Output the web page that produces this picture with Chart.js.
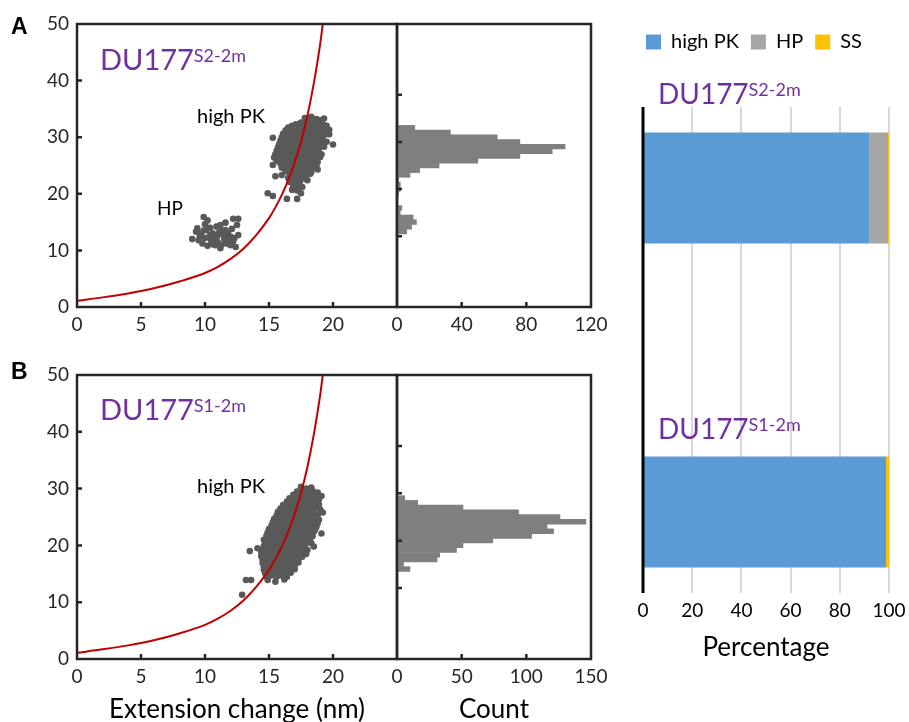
<!DOCTYPE html>
<html><head><meta charset="utf-8">
<script src="https://cdn.jsdelivr.net/npm/chart.js@4"></script>
<style>
body{margin:0;background:#fff;width:909px;height:722px;position:relative;overflow:hidden;font-family:Lato,sans-serif}
canvas{position:absolute}
.t{position:absolute;white-space:nowrap;line-height:1;color:#000}
.du{position:absolute;white-space:nowrap;line-height:1;color:#7030A0;font-size:29px}
.du span{font-size:18px;position:relative;top:-8px}
.pn{position:absolute;line-height:1;font:bold 23px "Liberation Sans",Arial,sans-serif}
</style></head><body>
<canvas id="sa" width="400" height="345" style="left:0;top:0"></canvas>
<canvas id="ha" width="229" height="345" style="left:380px;top:0"></canvas>
<canvas id="sb" width="400" height="372" style="left:0;top:350px"></canvas>
<canvas id="hb" width="229" height="372" style="left:380px;top:350px"></canvas>
<canvas id="pc" width="309" height="722" style="left:600px;top:0"></canvas>

<div class="pn" style="left:11px;top:13px">A</div>
<div class="pn" style="left:11px;top:358px">B</div>
<div class="du" style="left:100px;top:44px">DU177<span>S2-2m</span></div>
<div class="du" style="left:100px;top:394px">DU177<span>S1-2m</span></div>
<div class="t" style="left:197px;top:105px;font-size:20px">high PK</div>
<div class="t" style="left:157px;top:198px;font-size:19px">HP</div>
<div class="t" style="left:197px;top:475px;font-size:20px">high PK</div>
<div class="du" style="left:658px;top:79px;font-size:28px">DU177<span>S2-2m</span></div>
<div class="du" style="left:658px;top:414px;font-size:28px">DU177<span>S1-2m</span></div>

<script>
const AX='#262626', DOT='#595959', RED='#C00000', BAR='#7F7F7F';
const TF={family:'Lato',size:19};

// fitted curve (x in nm, y in pN)
const curveX=[0,2,4,6,8,10,11,12,13,14,15,15.5,16,16.5,17,17.5,18,18.5,19,19.2];
const curveY=[1.1,1.7,2.4,3.3,4.5,6.0,7.1,8.5,10.3,12.7,15.7,17.6,19.8,22.4,25.5,29.2,33.8,39.5,46.5,50];

// panel A scatter: HP cluster
const hpA=[[9.9,15.9],[10.2,15.3],[10.0,14.6],[9.4,13.9],[9.3,13.3],[9.0,12.0],[9.6,12.5],[9.8,11.2],[10.2,10.8],[10.5,11.5],
[10.3,12.3],[10.6,13.0],[10.9,14.2],[10.7,12.2],[11.0,11.4],[11.2,10.4],[11.0,12.7],[11.3,13.5],[11.6,14.9],[11.5,12.0],
[11.7,11.2],[11.8,13.0],[12.0,12.4],[12.2,11.6],[12.1,13.8],[12.2,15.6],[12.6,15.6],[12.5,14.5],[12.6,12.7],[12.4,10.6],
[12.0,10.9],[10.4,14.0],[9.7,13.0],[10.1,13.6],[10.8,10.9],[11.4,12.8],[11.9,11.9],[10.5,12.0],[9.5,11.8],[11.2,14.5],
[10.4,12.7],[10.9,11.9],[11.3,11.0],[11.6,13.6],[10.0,12.2],[11.1,13.1],[12.3,12.2],[9.9,13.5],[10.6,11.1],[11.8,12.5]];

// panel A scatter: high PK cluster
const pkA=[[17.8,33.4],[18.3,33.6],[18.7,33.2],[19.0,33.0],[18.1,33.0],[19.3,33.3],
[17.5,32.6],[17.9,32.4],[18.4,32.7],[18.8,32.5],[19.2,32.3],[17.1,32.3],[19.5,32.0],
[16.8,32.0],[17.3,31.9],[17.7,32.0],[18.2,31.9],[18.6,32.0],[19.0,31.8],[19.4,31.6],[16.5,31.7],[19.7,31.3],
[16.3,31.2],[16.7,31.3],[17.1,31.1],[17.5,31.4],[17.9,31.2],[18.3,31.4],[18.7,31.2],[19.1,31.1],[19.5,31.0],
[16.1,30.6],[16.5,30.8],[16.9,30.5],[17.3,30.7],[17.7,30.6],[18.1,30.8],[18.5,30.5],[18.9,30.7],[19.3,30.4],[19.7,30.5],[15.3,29.9],
[16.0,30.0],[16.4,30.1],[16.8,29.9],[17.2,30.1],[17.6,29.9],[18.0,30.0],[18.4,30.1],[18.8,29.9],[19.2,30.0],
[15.9,29.4],[16.3,29.5],[16.7,29.3],[17.1,29.5],[17.5,29.4],[17.9,29.5],[18.3,29.3],[18.7,29.5],[19.1,29.3],[19.5,29.2],
[15.8,28.8],[16.2,28.9],[16.6,28.7],[17.0,28.9],[17.4,28.8],[17.8,28.9],[18.2,28.7],[18.6,28.9],[19.0,28.6],[20.0,28.7],
[15.7,28.2],[16.1,28.3],[16.5,28.1],[16.9,28.3],[17.3,28.2],[17.7,28.3],[18.1,28.1],[18.5,28.2],[18.9,28.0],[19.3,28.3],
[15.6,27.6],[16.0,27.7],[16.4,27.5],[16.8,27.7],[17.2,27.6],[17.6,27.7],[18.0,27.5],[18.4,27.7],[18.8,27.5],
[15.5,27.0],[15.9,27.1],[16.3,26.9],[16.7,27.1],[17.1,27.0],[17.5,27.1],[17.9,26.9],[18.3,27.1],[18.7,26.9],[19.1,27.0],
[15.4,26.4],[15.8,26.5],[16.2,26.3],[16.6,26.5],[17.0,26.4],[17.4,26.5],[17.8,26.3],[18.2,26.5],[18.6,26.3],[19.0,26.5],
[15.6,25.8],[16.0,25.9],[16.4,25.7],[16.8,25.9],[17.2,25.8],[17.6,25.9],[18.0,25.7],[18.4,25.9],[18.8,25.6],
[15.3,25.1],[15.9,25.3],[16.3,25.1],[16.7,25.3],[17.1,25.2],[17.5,25.3],[17.9,25.1],[18.3,25.3],[18.7,25.0],
[16.0,24.6],[16.4,24.7],[16.8,24.5],[17.2,24.7],[17.6,24.6],[18.0,24.7],[18.4,24.5],[18.8,24.3],
[16.3,24.0],[16.7,24.1],[17.1,23.9],[17.5,24.1],[17.9,24.0],[18.3,23.8],
[15.5,23.1],[16.0,23.3],[16.6,23.5],[17.0,23.3],[17.4,23.5],[17.8,23.3],[18.2,23.5],
[16.5,22.8],[16.9,22.7],[17.3,22.9],[17.7,22.7],[18.0,22.4],
[16.6,22.1],[17.0,22.2],[17.4,22.0],
[16.9,21.4],[17.3,21.5],[17.6,21.2],
[16.8,20.7],[17.5,20.1],[17.2,20.6],
[16.4,19.1],[17.2,19.1],[14.9,20.1],[15.3,19.6]];

// panel B scatter: high PK cluster
const pkB=[[17.5,30.3],[17.9,30.0],[18.3,30.2],
[17.2,29.5],[17.6,29.7],[18.0,29.5],[18.4,29.6],[18.8,29.3],
[16.9,28.9],[17.3,29.1],[17.7,28.9],[18.1,29.0],[18.5,28.9],[19.1,28.7],
[16.6,28.3],[17.0,28.5],[17.4,28.3],[17.8,28.5],[18.2,28.3],[18.6,28.4],[18.9,28.1],
[16.4,27.7],[16.8,27.9],[17.2,27.7],[17.6,27.9],[18.0,27.7],[18.4,27.9],[18.8,27.6],
[16.1,27.1],[16.5,27.3],[16.9,27.1],[17.3,27.3],[17.7,27.1],[18.1,27.3],[18.5,27.1],[18.9,27.2],
[15.9,26.5],[16.3,26.7],[16.7,26.5],[17.1,26.7],[17.5,26.5],[17.9,26.7],[18.3,26.5],[18.7,26.6],[19.0,26.3],
[15.7,25.9],[16.1,26.1],[16.5,25.9],[16.9,26.1],[17.3,25.9],[17.7,26.1],[18.1,25.9],[18.5,26.1],[19.2,25.8],
[15.6,25.3],[16.0,25.5],[16.4,25.3],[16.8,25.5],[17.2,25.3],[17.6,25.5],[18.0,25.3],[18.4,25.5],[18.8,25.3],
[15.4,24.7],[15.8,24.9],[16.2,24.7],[16.6,24.9],[17.0,24.7],[17.4,24.9],[17.8,24.7],[18.2,24.9],[18.6,24.7],[18.9,24.5],
[15.3,24.1],[15.7,24.3],[16.1,24.1],[16.5,24.3],[16.9,24.1],[17.3,24.3],[17.7,24.1],[18.1,24.3],[18.5,24.1],[18.8,23.9],
[15.2,23.5],[15.6,23.7],[16.0,23.5],[16.4,23.7],[16.8,23.5],[17.2,23.7],[17.6,23.5],[18.0,23.7],[18.4,23.5],[18.7,23.3],
[15.0,22.9],[15.4,23.1],[15.8,22.9],[16.2,23.1],[16.6,22.9],[17.0,23.1],[17.4,22.9],[17.8,23.1],[18.2,22.9],[18.6,22.8],
[14.9,22.3],[15.3,22.5],[15.7,22.3],[16.1,22.5],[16.5,22.3],[16.9,22.5],[17.3,22.3],[17.7,22.5],[18.1,22.3],[18.5,22.4],[19.1,22.1],
[14.8,21.7],[15.2,21.9],[15.6,21.7],[16.0,21.9],[16.4,21.7],[16.8,21.9],[17.2,21.7],[17.6,21.9],[18.0,21.7],[18.4,21.6],
[14.6,21.0],[15.0,21.3],[15.4,21.1],[15.8,21.3],[16.2,21.1],[16.6,21.3],[17.0,21.1],[17.4,21.3],[17.8,21.1],[18.2,21.2],
[14.7,20.5],[15.1,20.7],[15.5,20.5],[15.9,20.7],[16.3,20.5],[16.7,20.7],[17.1,20.5],[17.5,20.7],[17.9,20.5],[18.3,20.4],
[14.6,19.9],[15.0,20.1],[15.4,19.9],[15.8,20.1],[16.2,19.9],[16.6,20.1],[17.0,19.9],[17.4,20.1],[17.8,19.9],[18.5,19.8],
[14.1,19.5],[14.5,19.3],[14.9,19.5],[15.3,19.3],[15.7,19.5],[16.1,19.3],[16.5,19.5],[16.9,19.3],[17.3,19.5],[17.7,19.3],[18.0,19.2],[13.5,19.0],
[14.4,18.7],[14.8,18.9],[15.2,18.7],[15.6,18.9],[16.0,18.7],[16.4,18.9],[16.8,18.7],[17.2,18.9],[17.6,18.7],[17.9,18.5],
[14.4,18.1],[14.8,18.3],[15.2,18.1],[15.6,18.3],[16.0,18.1],[16.4,18.3],[16.8,18.1],[17.2,18.3],[17.6,18.0],
[14.5,17.5],[14.9,17.7],[15.3,17.5],[15.7,17.7],[16.1,17.5],[16.5,17.7],[16.9,17.5],[17.3,17.6],
[14.5,16.9],[14.9,17.1],[15.3,16.9],[15.7,17.1],[16.1,16.9],[16.5,17.1],[16.9,16.9],[17.3,17.0],
[14.6,16.3],[15.0,16.5],[15.4,16.3],[15.8,16.5],[16.2,16.3],[16.6,16.5],[17.0,16.3],
[14.6,15.7],[15.0,15.9],[15.4,15.7],[15.8,15.9],[16.2,15.7],[16.6,15.9],[17.0,15.8],
[14.7,15.1],[15.1,15.3],[15.5,15.1],[15.9,15.3],[16.3,15.1],[16.7,15.2],
[14.8,14.5],[15.2,14.7],[15.6,14.5],[16.0,14.7],[16.4,14.5],
[14.9,13.9],[15.5,13.6],[13.2,13.9],[13.6,13.9],[16.2,14.0],[12.9,11.3]];

// histograms (bin centre, count)
const binA=[11,12,13,14,15,16,17,18,19,20,21,22,23,24,25,26,27,28,29,30,31,32,33];
const cntA=[6,9,12,10,2,3,0,0,1,2,2,1,8,14,26,50,76,96,104,76,62,33,11];
const binB=[14,15,16,17,18,19,20,21,22,23,24,25,26,27,28,29];
const cntB=[10,5,31,33,46,51,74,104,121,116,146,126,94,51,16,6];

// percentage bars
const groups=['DU177 S2-2m','','DU177 S1-2m'];
const highPK=[92,null,98.8];
const hpPct=[7.6,null,0];
const ssPct=[0.4,null,1.2];

// box frame + inward tick marks
const frame={id:'frame',afterDraw(c){
  const {ctx,chartArea:a,scales:s}=c; ctx.save(); ctx.strokeStyle=AX; ctx.lineWidth=2.5;
  ctx.beginPath();
  s.x.ticks.slice(1,-1).forEach(t=>{const p=s.x.getPixelForValue(t.value); ctx.moveTo(p,a.bottom); ctx.lineTo(p,a.bottom-5);});
  s.y.ticks.slice(1,-1).forEach(t=>{const p=s.y.getPixelForValue(t.value); ctx.moveTo(a.left,p); ctx.lineTo(a.left+5,p);});
  ctx.stroke(); ctx.strokeRect(a.left,a.top,a.right-a.left,a.bottom-a.top); ctx.restore(); }};
// black category axis line of the percentage chart
const yLine={id:'yLine',afterDraw(c){
  const {ctx,chartArea:a}=c; ctx.save(); ctx.strokeStyle='#000'; ctx.lineWidth=3;
  ctx.beginPath(); ctx.moveTo(a.left,a.top); ctx.lineTo(a.left,a.bottom); ctx.stroke(); ctx.restore(); }};

// fixed axis box, no extra label overhang padding
function fixH(h){ return s=>{ s.height=h; s.paddingLeft=0; s.paddingRight=0; }; }
function fixW(w){ return s=>{ s.width=w; s.paddingTop=0; s.paddingBottom=0; }; }
function xTitle(t){ return t?{display:true,text:t,color:'#000',font:{family:'Lato',size:26},padding:{top:0,bottom:-3}}:{display:false}; }
function off(){ return {display:false,drawTicks:false}; }

function scatter(id, pts, top, h, title){
  new Chart(document.getElementById(id),{type:'scatter',data:{datasets:[
    {type:'line',data:curveX.map((x,i)=>({x,y:curveY[i]})),borderColor:RED,borderWidth:2,pointRadius:0,cubicInterpolationMode:'monotone',order:0},
    {data:pts.map(p=>({x:p[0],y:p[1]})),backgroundColor:DOT,borderWidth:0,pointRadius:3.3,order:1}]},
   options:{responsive:false,animation:false,events:[],layout:{autoPadding:false,padding:{top,right:3,left:0,bottom:0}},
    plugins:{legend:{display:false},tooltip:{enabled:false}},
    scales:{x:{type:'linear',min:0,max:25,grid:off(),border:{display:false},ticks:{stepSize:5,padding:6,color:AX,font:TF,callback:v=>v===25?'':v},title:xTitle(title),afterFit:fixH(h)},
            y:{min:0,max:50,grid:off(),border:{display:false},ticks:{stepSize:10,padding:8,color:AX,font:TF},afterFit:fixW(77)}}},
   plugins:[frame]});
}
function hist(id, bins, counts, max, step, top, h, title){
  new Chart(document.getElementById(id),{type:'bar',data:{datasets:[
    {data:bins.map((b,i)=>({x:counts[i],y:b})),backgroundColor:BAR,borderWidth:0,barPercentage:1,categoryPercentage:1}]},
   options:{indexAxis:'y',responsive:false,animation:false,events:[],layout:{autoPadding:false,padding:{top,right:18,left:0,bottom:0}},
    plugins:{legend:{display:false},tooltip:{enabled:false}},
    scales:{x:{type:'linear',min:0,max,grid:off(),border:{display:false},ticks:{stepSize:step,padding:6,color:AX,font:TF},title:xTitle(title),afterFit:fixH(h)},
            y:{type:'linear',min:0,max:50,grid:off(),border:{display:false},ticks:{stepSize:10,display:false},afterFit:fixW(17)}}},
   plugins:[frame]});
}

scatter('sa', hpA.concat(pkA), 24, 38, null);
hist('ha', binA, cntA, 120, 40, 24, 38, null);
scatter('sb', pkB, 25, 63, 'Extension change (nm)');
hist('hb', binB, cntB, 150, 50, 25, 63, 'Count');

new Chart(document.getElementById('pc'),{type:'bar',data:{labels:groups,datasets:[
  {label:'high PK',data:highPK,backgroundColor:'#5B9BD5'},
  {label:'HP',data:hpPct,backgroundColor:'#A5A5A5'},
  {label:'SS',data:ssPct,backgroundColor:'#FFC000'}]},
 options:{indexAxis:'y',responsive:false,animation:false,events:[],
  datasets:{bar:{barPercentage:0.685,categoryPercentage:1}},
  layout:{autoPadding:false,padding:{left:34,top:20,right:20,bottom:59}},
  plugins:{tooltip:{enabled:false},legend:{position:'top',align:'start',labels:{boxWidth:15,boxHeight:15,padding:12,color:'#000',font:{family:'Lato',size:20}}}},
  scales:{x:{stacked:true,min:0,max:100,grid:{color:c=>c.index===0?'rgba(0,0,0,0)':'#D9D9D9',lineWidth:2,drawTicks:false},border:{display:false},
            ticks:{stepSize:20,padding:6,color:'#000',font:TF},title:{display:true,text:'Percentage',color:'#000',font:{family:'Lato',size:26},padding:0},afterFit:fixH(70)},
          y:{stacked:true,grid:off(),ticks:{display:false},border:{display:false},afterFit:fixW(9)},
          gap:{type:'linear',axis:'x',position:'top',grid:off(),ticks:{display:false},border:{display:false},afterFit:fixH(45)}}},
 plugins:[yLine]});
</script>
</body></html>
